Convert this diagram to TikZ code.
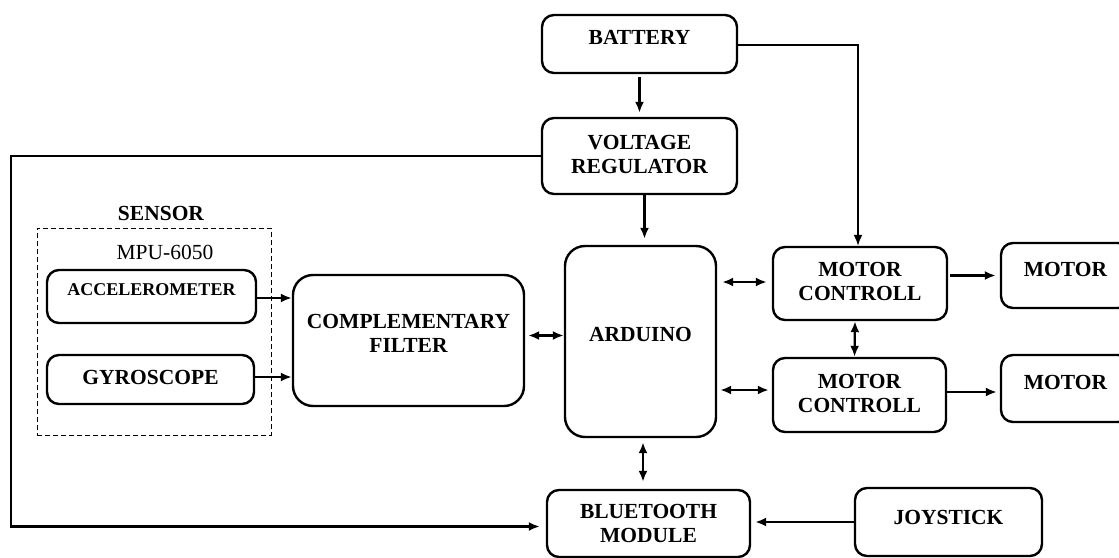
\documentclass[tikz,border=0pt]{standalone}
\usepackage{fontspec}
\setmainfont{Liberation Serif}
\usetikzlibrary{arrows.meta}

\tikzset{
  blk/.style={draw, line width=2.4pt, rounded corners=12pt, align=center,
    font=\fontsize{21.5}{24}\selectfont\bfseries, inner sep=2pt},
  wire/.style={line width=2.2pt, -{Latex[length=11pt,width=9pt]}},
  wires/.style={line width=2.2pt, {Latex[length=11pt,width=9pt]}-{Latex[length=11pt,width=9pt]}},
}

\begin{document}
\begin{tikzpicture}[x=1pt,y=-1pt]
        \useasboundingbox (0,0) rectangle (1119,557);
        \clip (0,0) rectangle (1119,557);

        % Power supply
        \node[blk, minimum width=195pt, minimum height=58pt, text depth=13pt] (bat) at (639.5,44) {BATTERY};
        \node[blk, minimum width=195pt, minimum height=76pt, text depth=3pt] (vreg) at (639.5,156) {VOLTAGE\\REGULATOR};

        % Sensor group
        \node[draw, line width=1pt, dash pattern=on 5pt off 3pt, minimum width=234pt, minimum height=207pt, inner sep=0pt] (sens) at (154,331.5) {};
        \node[font=\fontsize{21.5}{24}\selectfont\bfseries] (senslbl) at (161,213) {SENSOR};
        \node[font=\fontsize{21.5}{24}\selectfont] (mpu) at (165,252) {MPU-6050};
        \node[blk, font=\fontsize{18}{21}\selectfont\bfseries, minimum width=209pt, minimum height=53pt, text depth=13pt] (acc) at (151.5,296.5) {ACCELEROMETER};
        \node[blk, minimum width=207pt, minimum height=49pt, text depth=5pt] (gyro) at (150.5,379.5) {GYROSCOPE};

        % Processing
        \node[blk, rounded corners=20pt, minimum width=231pt, minimum height=131pt, text depth=15pt] (comp) at (408.5,340.5) {COMPLEMENTARY\\FILTER};
        \node[blk, rounded corners=20pt, minimum width=151pt, minimum height=191pt, text depth=15pt] (ard) at (640.5,341.5) {ARDUINO};

        % Drive
        \node[blk, minimum width=174pt, minimum height=73pt, text depth=5pt] (mc1) at (860,283.5) {MOTOR\\CONTROLL};
        \node[blk, minimum width=173pt, minimum height=74pt, text depth=3pt] (mc2) at (859.5,395) {MOTOR\\CONTROLL};
        \node[blk, minimum width=129pt, minimum height=65pt, text depth=13pt] (mot1) at (1065.5,275.5) {MOTOR};
        \node[blk, minimum width=129pt, minimum height=67pt, text depth=13pt] (mot2) at (1065.5,388.5) {MOTOR};

        % Remote
        \node[blk, minimum width=203pt, minimum height=67pt] (bt) at (648.5,523.5) {BLUETOOTH\\MODULE};
        \node[blk, minimum width=187pt, minimum height=68pt, text depth=10pt] (joy) at (948.5,522) {JOYSTICK};

        % Connections
        \draw[wire, shorten <=3pt, shorten >=4pt] (bat) -- (vreg);
        \draw[wire, shorten >=6pt] ([xshift=5pt]vreg.south) -- ([xshift=5pt]vreg.south |- ard.north);
        \draw[wire, line width=1.7pt] ([yshift=-1pt]bat.east) -| ([xshift=-2pt]mc1.north);
        \coordinate (lft) at (11,400);
        \draw[wire, line width=2.6pt, shorten >=6pt] (vreg.west) -| (lft) |- ([yshift=-3pt]bt.west);

        \draw[wire] ([yshift=-1.5pt]acc.east) -- ([yshift=-1.5pt]acc.east -| comp.west);
        \draw[wire] ([yshift=2.5pt]gyro.east) -- ([yshift=2.5pt]gyro.east -| comp.west);
        \draw[wires, shorten <=3pt] ([yshift=5pt]comp.east) -- ([yshift=5pt]comp.east -| ard.west);

        \draw[wires, shorten <=5pt, shorten >=5pt] ([yshift=1.5pt]mc1.west -| ard.east) -- ([yshift=1.5pt]mc1.west);
        \draw[wires, shorten <=3pt, shorten >=3pt] ([yshift=5pt]mc2.west -| ard.east) -- ([yshift=5pt]mc2.west);
        \draw[wires] ([xshift=-5pt]mc1.south) -- ([xshift=-5pt]mc2.north);
        \draw[wire, shorten <=2pt, shorten >=4pt] (mc1.east |- mot1.west) -- (mot1.west);
        \draw[wire, shorten >=3pt] ([yshift=3pt]mc2.east) -- ([yshift=3pt]mc2.east -| mot2.west);

        \draw[wires, shorten <=4pt, shorten >=7pt] ([xshift=2.5pt]ard.south) -- ([xshift=2.5pt]ard.south |- bt.north);
        \draw[wire, shorten >=4pt] (joy.west) -- (joy.west -| bt.east);
\end{tikzpicture}
\end{document}
